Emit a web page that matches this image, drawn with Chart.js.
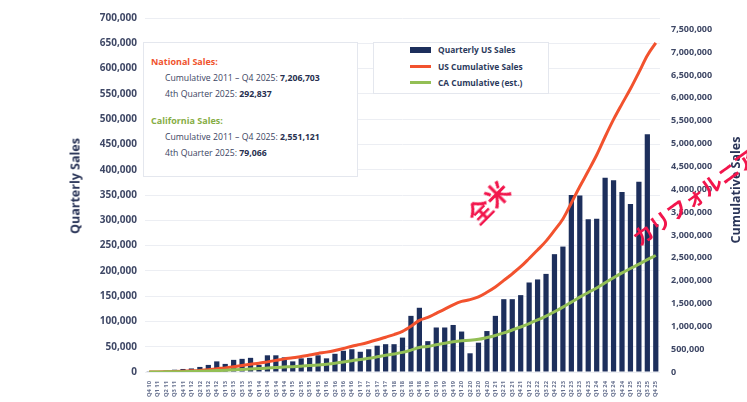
<!DOCTYPE html>
<html>
<head>
<meta charset="utf-8">
<script src="https://cdn.jsdelivr.net/npm/chart.js@4"></script>
<style>
  body { margin: 0; background: #fff; }
  #wrap { position: relative; width: 747px; height: 402px; overflow: hidden; font-family: "Open Sans", sans-serif; }
  #chart { position: absolute; left: 0; top: 0; }
  .box { position: absolute; background: #fff; border: 1px solid #e4e7ee; box-sizing: border-box; }
  .note { position: absolute; font-size: 8.7px; color: #3b4462; white-space: nowrap; }
  .note b { color: #27304f; }
  .head { font-weight: 700; font-size: 9px; }
  .leg { position: absolute; font-size: 8.4px; font-weight: 700; color: #2b3a5c; white-space: nowrap; }
  .sw { position: absolute; }
  .ytitle { position: absolute; font-size: 12.5px; font-weight: 700; color: #2a3558; white-space: nowrap;
            transform: translate(-50%, -50%) rotate(-90deg); }
  .jp { position: absolute; font-family: "Noto Sans CJK JP", sans-serif; font-weight: 700; color: #f2154c;
        white-space: nowrap; transform-origin: 0 100%; }
</style>
</head>
<body>
<div id="wrap">
  <canvas id="chart" width="747" height="402"></canvas>

  <div class="box" style="left:143px;top:42px;width:215px;height:135px;"></div>
  <div class="note head" style="left:151px;top:55px;color:#f0532d;">National Sales:</div>
  <div class="note" style="left:165px;top:72px;">Cumulative 2011 – Q4 2025: <b>7,206,703</b></div>
  <div class="note" style="left:165px;top:88px;">4th Quarter 2025: <b>292,837</b></div>
  <div class="note head" style="left:151px;top:114px;color:#86ad45;">California Sales:</div>
  <div class="note" style="left:165px;top:131px;">Cumulative 2011 – Q4 2025: <b>2,551,121</b></div>
  <div class="note" style="left:165px;top:147px;">4th Quarter 2025: <b>79,066</b></div>

  <div class="box" style="left:373px;top:42px;width:176px;height:52px;"></div>
  <div class="sw" style="left:410px;top:47px;width:21px;height:6px;background:#1d2f5c;"></div>
  <div class="leg" style="left:438px;top:44px;">Quarterly US Sales</div>
  <div class="sw" style="left:410px;top:65px;width:21px;height:3px;background:#f2522e;"></div>
  <div class="leg" style="left:438px;top:61px;">US Cumulative Sales</div>
  <div class="sw" style="left:410px;top:81px;width:21px;height:3px;background:#93bf55;"></div>
  <div class="leg" style="left:438px;top:77px;">CA Cumulative (est.)</div>

  <div class="ytitle" style="left:75px;top:186px;">Quarterly Sales</div>
  <div class="ytitle" style="left:735px;top:190px;">Cumulative Sales</div>

  <div class="jp" style="left:483px;top:196px;font-size:24px;transform:rotate(-45deg);">全米</div>
  <div class="jp" style="left:643px;top:222px;font-size:21px;transform:rotate(-36deg);">カリフォルニア</div>
</div>

<script>
// quarters from Q4 2010 to Q4 2025
const quarters = [
  "Q4 10",
  "Q1 11", "Q2 11", "Q3 11", "Q4 11",
  "Q1 12", "Q2 12", "Q3 12", "Q4 12",
  "Q1 13", "Q2 13", "Q3 13", "Q4 13",
  "Q1 14", "Q2 14", "Q3 14", "Q4 14",
  "Q1 15", "Q2 15", "Q3 15", "Q4 15",
  "Q1 16", "Q2 16", "Q3 16", "Q4 16",
  "Q1 17", "Q2 17", "Q3 17", "Q4 17",
  "Q1 18", "Q2 18", "Q3 18", "Q4 18",
  "Q1 19", "Q2 19", "Q3 19", "Q4 19",
  "Q1 20", "Q2 20", "Q3 20", "Q4 20",
  "Q1 21", "Q2 21", "Q3 21", "Q4 21",
  "Q1 22", "Q2 22", "Q3 22", "Q4 22",
  "Q1 23", "Q2 23", "Q3 23", "Q4 23",
  "Q1 24", "Q2 24", "Q3 24", "Q4 24",
  "Q1 25", "Q2 25", "Q3 25", "Q4 25",
];

// quarterly US plug-in sales
const usQuarterly = [
  500,
  1500, 2500, 4500, 6000,
  7000, 10000, 14000, 21000,
  16000, 24000, 26000, 28000,
  14000, 33000, 33000, 29000,
  21000, 27000, 28000, 33000,
  27000, 36000, 42000, 45000,
  40000, 45000, 52000, 55000,
  55000, 68000, 111000, 127000,
  61000, 88000, 88000, 93000,
  80000, 37000, 58000, 81000,
  111000, 144000, 144000, 152000,
  177000, 183000, 194000, 233000,
  248000, 350000, 349000, 302000,
  303000, 384000, 379000, 356000,
  332000, 376000, 470000, 292837,
];

// running totals, US
const usCumulative = [
  500,
  2000, 5000, 10000, 17000,
  25000, 35000, 50000, 72000,
  90000, 115000, 142000, 170000,
  190000, 222000, 255000, 287000,
  310000, 340000, 370000, 405000,
  435000, 472000, 515000, 565000,
  605000, 652000, 705000, 762000,
  820000, 890000, 1000000, 1130000,
  1195000, 1285000, 1375000, 1470000,
  1545000, 1585000, 1645000, 1745000,
  1860000, 2005000, 2150000, 2305000,
  2485000, 2670000, 2865000, 3100000,
  3350000, 3700000, 4060000, 4400000,
  4750000, 5150000, 5530000, 5870000,
  6200000, 6560000, 6930000, 7206703,
];

// running totals, California (estimate)
const caCumulative = [
  300,
  1000, 3000, 5000, 8000,
  12000, 17000, 23000, 31000,
  38000, 47000, 57000, 68000,
  75000, 86000, 98000, 109000,
  117000, 128000, 140000, 155000,
  170000, 190000, 218000, 248000,
  272000, 300000, 332000, 365000,
  395000, 430000, 480000, 535000,
  560000, 595000, 630000, 662000,
  685000, 695000, 715000, 755000,
  800000, 855000, 920000, 985000,
  1060000, 1140000, 1225000, 1320000,
  1420000, 1530000, 1640000, 1740000,
  1840000, 1955000, 2065000, 2170000,
  2265000, 2360000, 2460000, 2551121,
];

const navy = "#1d2f5c";
const orange = "#f2522e";
const green = "#93bf55";
const tickColor = "#3f4866";

Chart.defaults.font.family = "'Open Sans', sans-serif";

const fmt = (v) => Number(v).toLocaleString("en-US");

const ctx = document.getElementById("chart").getContext("2d");
new Chart(ctx, {
  type: "bar",
  data: {
    labels: quarters,
    datasets: [
      {
        type: "line",
        label: "CA Cumulative (est.)",
        data: caCumulative,
        yAxisID: "y1",
        borderColor: green,
        borderWidth: 3,
        pointRadius: 0,
        tension: 0.4,
        cubicInterpolationMode: "monotone",
        order: 1,
      },
      {
        type: "line",
        label: "US Cumulative Sales",
        data: usCumulative,
        yAxisID: "y1",
        borderColor: orange,
        borderWidth: 3,
        pointRadius: 0,
        tension: 0.4,
        cubicInterpolationMode: "monotone",
        order: 2,
      },
      {
        label: "Quarterly US Sales",
        data: usQuarterly,
        yAxisID: "y",
        backgroundColor: navy,
        categoryPercentage: 1,
        barPercentage: 0.62,
        order: 3,
      },
    ],
  },
  options: {
    responsive: false,
    animation: false,
    layout: { padding: { left: 64, top: 18, right: 0, bottom: 0 } },
    plugins: {
      legend: { display: false },
      tooltip: { enabled: false },
    },
    scales: {
      x: {
        grid: { display: false },
        border: { display: false },
        ticks: {
          autoSkip: false,
          maxRotation: 90,
          minRotation: 90,
          padding: 1,
          color: "#66708e",
          font: { size: 5.8, weight: "700" },
        },
        afterFit: (scale) => { scale.height = 30; },
      },
      y: {
        position: "left",
        min: 0,
        max: 700000,
        ticks: {
          stepSize: 50000,
          padding: 8,
          color: tickColor,
          font: { size: 10, weight: "700" },
          callback: fmt,
        },
        grid: { color: "#eceef3", drawTicks: false },
        border: { display: false },
        afterFit: (scale) => { scale.width = 81; },
      },
      y1: {
        position: "right",
        min: 0,
        max: 7750000,
        ticks: {
          stepSize: 250000,
          padding: 11,
          color: tickColor,
          font: { size: 9, weight: "700" },
          callback: fmt,
        },
        grid: { drawOnChartArea: false, drawTicks: false },
        border: { display: false },
        afterFit: (scale) => { scale.width = 87; },
      },
    },
  },
});
</script>
</body>
</html>
